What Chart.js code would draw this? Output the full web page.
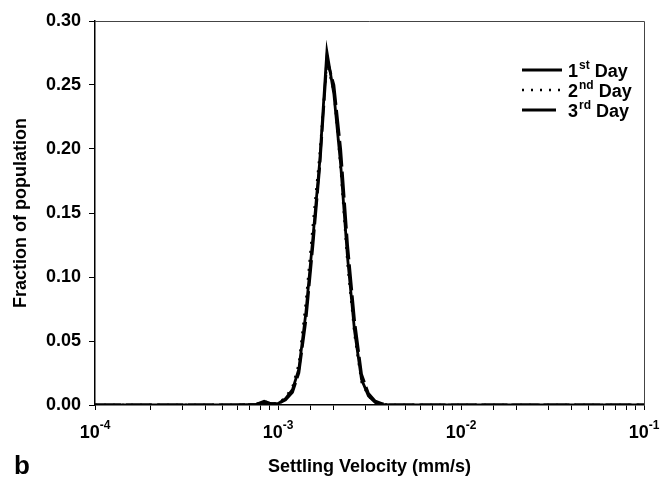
<!DOCTYPE html>
<html><head><meta charset="utf-8">
<script src="https://cdn.jsdelivr.net/npm/chart.js@4.4.0/dist/chart.umd.min.js"></script>
<style>html,body{margin:0;padding:0;background:#fff;}#wrap{width:661px;height:478px;position:relative;}</style>
</head><body><div id="wrap"><canvas id="c" width="661" height="478"></canvas></div>
<script>
// Settling velocity bins (mm/s)
const velocity = [1.0e-4, 3.0e-4, 6.0e-4, 7.6e-4, 8.4e-4, 9.2e-4, 1.0e-3, 1.1e-3, 1.2e-3, 1.3e-3, 1.42e-3, 1.55e-3, 1.69e-3, 1.85e-3, 2.02e-3, 2.2e-3, 2.4e-3, 2.62e-3, 2.86e-3, 3.12e-3, 3.4e-3, 3.72e-3, 4.06e-3, 1.0e-2, 1.0e-1];
const day1 = [0, 0, 0, 0.0005, 0.003, 0.001, 0.001, 0.005, 0.012, 0.028, 0.072, 0.130, 0.190, 0.276, 0.243, 0.188, 0.115, 0.058, 0.020, 0.007, 0.002, 0.0005, 0, 0, 0];
const day2 = [0, 0, 0, 0.0005, 0.003, 0.001, 0.001, 0.006, 0.014, 0.032, 0.080, 0.140, 0.196, 0.268, 0.245, 0.185, 0.110, 0.055, 0.018, 0.007, 0.002, 0.0005, 0, 0, 0];
const day3 = [0, 0, 0, 0.0005, 0.002, 0.001, 0.001, 0.004, 0.010, 0.025, 0.066, 0.124, 0.186, 0.270, 0.250, 0.200, 0.125, 0.066, 0.024, 0.009, 0.003, 0.001, 0, 0, 0];
const seriesNames = ['1st Day', '2nd Day', '3rd Day'];
const seriesSup = [['1', 'st', ' Day'], ['2', 'nd', ' Day'], ['3', 'rd', ' Day']];
const yTickValues = [0, 0.05, 0.10, 0.15, 0.20, 0.25, 0.30];
const xDecades = [1e-4, 1e-3, 1e-2, 1e-1];
const xDecadeExp = ['-4', '-3', '-2', '-1'];
const xTitle = 'Settling Velocity (mm/s)';
const yTitle = 'Fraction of population';
const panelLabel = 'b';

const FONT = '"Liberation Sans", Arial, Helvetica, sans-serif';

const pts = arr => velocity.map((v, i) => ({x: v, y: arr[i]}));

const framePlugin = {
  id: 'frame',
  afterDatasetsDraw(chart) {
    const ctx = chart.ctx, a = chart.chartArea;
    ctx.save();
    ctx.strokeStyle = '#444';
    ctx.lineWidth = 1;
    ctx.beginPath();
    ctx.moveTo(a.left, a.top + 0.5);
    ctx.lineTo(a.right + 0.5, a.top + 0.5);
    ctx.lineTo(a.right + 0.5, a.bottom);
    ctx.stroke();
    ctx.restore();
  }
};

const textPlugin = {
  id: 'texts',
  afterDraw(chart) {
    const ctx = chart.ctx, a = chart.chartArea;
    const xs = chart.scales.x;
    ctx.save();
    ctx.fillStyle = '#000';
    ctx.textBaseline = 'alphabetic';
    // x decade labels with superscript exponent
    xDecades.forEach((v, i) => {
      const px = xs.getPixelForValue(v);
      ctx.font = 'bold 18px ' + FONT;
      const wb = ctx.measureText('10').width;
      ctx.font = 'bold 12px ' + FONT;
      const we = ctx.measureText(xDecadeExp[i]).width;
      const x0 = px - (wb + we) / 2;
      const base = a.bottom + 33;
      ctx.font = 'bold 18px ' + FONT;
      ctx.textAlign = 'left';
      ctx.fillText('10', x0, base);
      ctx.font = 'bold 12px ' + FONT;
      ctx.fillText(xDecadeExp[i], x0 + wb, base - 9);
    });
    // panel label
    ctx.font = 'bold 26px ' + FONT;
    ctx.textAlign = 'left';
    ctx.fillText(panelLabel, 14, 474);
    // legend
    chart.data.datasets.forEach((ds, i) => {
      const y = a.top + 49 + i * 20;
      const lx0 = a.right - 122, lx1 = a.right - 82;
      ctx.save();
      ctx.strokeStyle = ds.borderColor;
      ctx.lineWidth = ds.borderWidth;
      ctx.setLineDash(ds.legendDash || ds.borderDash || []);
      ctx.beginPath();
      ctx.moveTo(lx0, y);
      ctx.lineTo(lx1, y);
      ctx.stroke();
      ctx.restore();
      const parts = seriesSup[i];
      let tx = a.right - 76;
      const tb = y + 7;
      ctx.font = 'bold 18px ' + FONT;
      ctx.fillText(parts[0], tx, tb);
      tx += ctx.measureText(parts[0]).width + 1;
      ctx.font = 'bold 12px ' + FONT;
      ctx.fillText(parts[1], tx, tb - 8);
      tx += ctx.measureText(parts[1]).width;
      ctx.font = 'bold 18px ' + FONT;
      ctx.fillText(parts[2], tx, tb);
    });
    ctx.restore();
  }
};

new Chart(document.getElementById('c'), {
  type: 'line',
  data: {
    datasets: [
      {label: seriesNames[0], data: pts(day1), borderColor: '#000', borderWidth: 2.8, pointRadius: 0, tension: 0, fill: false},
      {label: seriesNames[1], data: pts(day2), borderColor: '#000', borderWidth: 2.5, borderDash: [2, 7], pointRadius: 0, tension: 0, fill: false},
      {label: seriesNames[2], data: pts(day3), borderColor: '#000', borderWidth: 2.8, borderDash: [26, 5], legendDash: [34, 100], pointRadius: 0, tension: 0, fill: false}
    ]
  },
  options: {
    responsive: false,
    animation: false,
    devicePixelRatio: 1,
    layout: {padding: {left: 0, top: 21, right: 17, bottom: 0}},
    plugins: {legend: {display: false}, tooltip: {enabled: false}},
    scales: {
      x: {
        type: 'logarithmic', min: 1e-4, max: 1e-1, position: 'bottom',
        afterFit: s => { s.height = 73; },
        grid: {display: true, drawOnChartArea: false, drawTicks: true, tickLength: 5, color: '#000', lineWidth: 1},
        border: {display: true, color: '#000', width: 1.5},
        ticks: {autoSkip: false, maxRotation: 0, callback: () => ''},
        title: {display: true, text: xTitle, color: '#000', font: {family: FONT, size: 18, weight: 'bold'}, padding: {top: 3, bottom: 0}}
      },
      y: {
        type: 'linear', min: 0, max: 0.3,
        afterFit: s => { s.width = 95; },
        afterBuildTicks: s => { s.ticks = yTickValues.map(v => ({value: v})); },
        grid: {display: true, drawOnChartArea: false, drawTicks: true, tickLength: 6, color: '#000', lineWidth: 1},
        border: {display: true, color: '#000', width: 1.5},
        ticks: {color: '#000', padding: 8, font: {family: FONT, size: 18, weight: 'bold'}, callback: v => Number(v).toFixed(2)},
        title: {display: true, text: yTitle, color: '#000', font: {family: FONT, size: 18, weight: 'bold'}, padding: {top: 10, bottom: 0}}
      }
    }
  },
  plugins: [framePlugin, textPlugin]
});
</script></body></html>
